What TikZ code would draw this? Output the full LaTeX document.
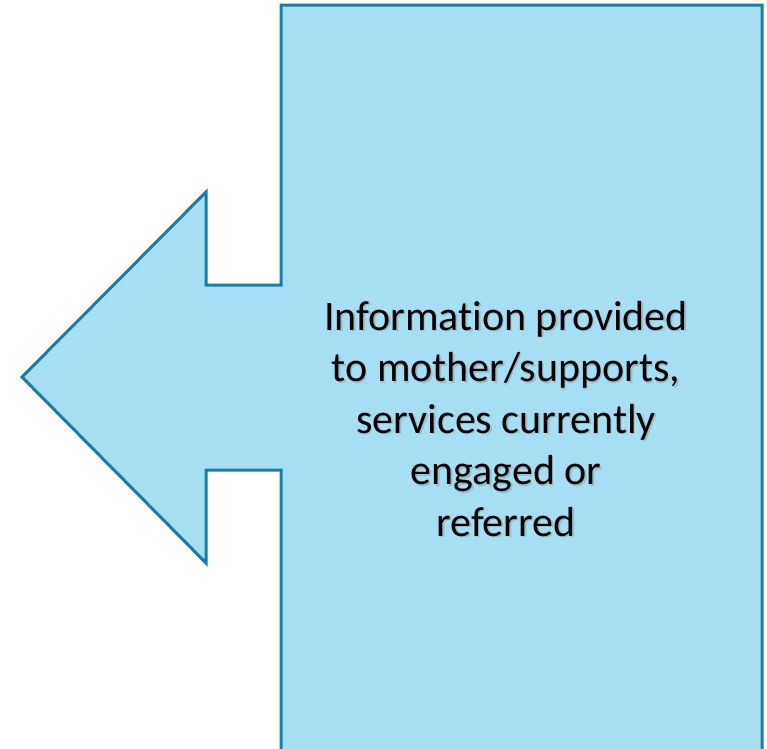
\documentclass[tikz,border=0pt]{standalone}
\usepackage{fontspec}
\setmainfont[Ligatures=NoCommon]{Carlito}
\definecolor{calfill}{HTML}{A6DEF3}
\definecolor{caledge}{HTML}{1A7DA6}
\definecolor{shadowgray}{HTML}{8A9AA0}
\begin{document}
\begin{tikzpicture}[x=1pt,y=-1pt,
  callout/.style={fill=calfill,draw=caledge,line width=3pt,line join=miter},
  calltext/.style={align=center,font=\fontsize{42}{51.5}\selectfont,inner sep=0pt}]
\useasboundingbox (0,0) rectangle (767,748);
\clip (0,0) rectangle (767,748);
\coordinate (tip) at (22,377);
\draw[callout] (tip) -- (206,192) -- (206,285) -- (281,285) -- (281,5) -- (762,5)
  -- (762,770) -- (281,770) -- (281,470) -- (206,470) -- (206,563) -- cycle;
\node[calltext,text=shadowgray,opacity=0.45] (shadow) at (507.5,420.5)
  {Information provided\\to mother/supports,\\services currently\\engaged or\\referred};
\node[calltext,text=black] (label) at (506,419)
  {Information provided\\to mother/supports,\\services currently\\engaged or\\referred};
\end{tikzpicture}
\end{document}
